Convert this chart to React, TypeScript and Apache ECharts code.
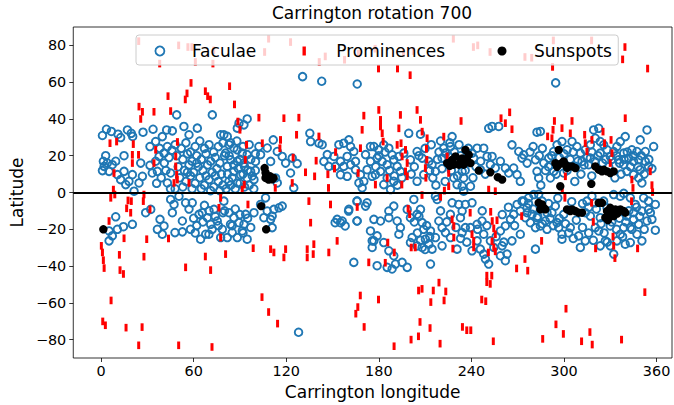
import React, { useEffect, useRef } from "react";
import * as echarts from "echarts";

const xTicks = [0, 60, 120, 180, 240, 300, 360];
const yTicks = [-80, -60, -40, -20, 0, 20, 40, 60, 80];

// Faculae, northern hemisphere, lon 0-48
const facNorthW = [
  [0.9, 31.0], [3.5, 34.4], [6.7, 33.2], [11.0, 31.7], [12.7, 29.9], [17.1, 34.0], [19.6, 32.2], [20.5, 30.5],
  [27.2, 32.8], [33.7, 34.4], [1.5, 17.0], [3.0, 20.0], [2.0, 14.2], [0.9, 11.9], [4.1, 16.0], [7.3, 15.1],
  [9.5, 17.0], [14.9, 20.0], [5.2, 11.5], [10.6, 9.7], [14.9, 11.5], [12.7, 7.0], [16.0, 4.3], [18.1, 6.1],
  [21.4, 0.7], [20.3, 9.7], [24.6, 5.2], [26.8, 8.8], [25.7, 16.0], [31.7, 14.8], [33.2, 10.6], [36.5, 11.5],
  [35.4, 17.0], [31.7, 25.0], [35.4, 27.7], [39.7, 30.4], [42.5, 34.0], [46.2, 33.5], [49.0, 42.2], [53.7, 35.9],
  [57.0, 31.4], [62.4, 35.0], [72.1, 42.2], [77.5, 31.4], [43.0, 5.2], [45.1, 10.6], [37.6, 19.6], [40.8, 21.4],
  [43.0, 25.0], [38, 24], [41, 16], [44, 19], [46, 23], [42, 12], [39, 8], [45, 2], [36, 5],
];
// Faculae, northern hemisphere, dense lon 48-80
const facNorthDense = [
  [48, 26], [52, 24], [55, 27], [58, 22], [61, 25], [64, 28], [67, 24], [70, 26], [73, 22], [76, 25], [79, 27],
  [49, 20], [53, 18], [56, 21], [59, 17], [62, 20], [65, 18], [68, 21], [71, 17], [74, 19], [77, 16], [80, 20],
  [50, 14], [54, 12], [57, 15], [60, 11], [63, 14], [66, 12], [69, 15], [72, 11], [75, 13], [78, 10],
  [51, 8], [55, 6], [58, 9], [61, 5], [64, 8], [67, 4], [70, 7], [73, 3], [76, 6], [79, 4],
  [48, 2], [53, 3], [59, 2], [65, 2], [71, 1], [77, 1], [62, 16], [68, 9], [56, 11], [74, 9],
];
// Faculae, northern hemisphere, lon 80-176
const facNorthMid = [
  [94.7, 40.0], [92.6, 36.8], [89.4, 37.7], [79.6, 31.4], [81.8, 30.5], [82.9, 26.0], [86.1, 24.2], [80.7, 21.4],
  [88.3, 23.2], [91.5, 21.4], [94.7, 20.6], [84.0, 17.8], [88.3, 16.9], [92.6, 16.0], [81.8, 14.2], [86.1, 11.5],
  [90.4, 9.7], [94.7, 7.9], [99.1, 7.0], [82.9, 6.1], [88.3, 5.2], [96.9, 11.5], [100.1, 16.9], [103.4, 20.6],
  [102.3, 25.0], [107.7, 24.2], [111.6, 28.6], [114.2, 22.3], [117.4, 19.6], [119.6, 16.0], [122.8, 10.6],
  [123.9, 18.7], [127.1, 15.7], [124.9, 2.5], [109.9, 16.9], [113.1, 7.9], [114.2, 5.2], [135.3, 32.2],
  [135.8, 27.7], [141.2, 26.8], [143.3, 26.0], [146.6, 20.6], [144.4, 16.9], [147.6, 14.2], [150.9, 19.6],
  [154.1, 26.0], [157.3, 26.8], [160.6, 28.6], [161.7, 25.0], [163.8, 22.3], [159.5, 19.6], [155.2, 16.9],
  [157.3, 14.2], [161.7, 15.1], [164.9, 12.4], [168.1, 9.7], [172.4, 12.4], [174.6, 16.9], [171.4, 20.6],
  [174.6, 25.0], [170.3, 6.1], [169.2, 2.5], [175.7, 8.8], [151.9, 14.2], [155.2, 9.7], [159.5, 8.8],
  [164.9, 16.9], [167.1, 5.2], [88.3, 35.0],
  [81, 2], [84, 4], [87, 2], [90, 5], [93, 3], [96, 4], [99, 2], [82, 10], [85, 8], [89, 13], [92, 10], [95, 12],
  [98, 9], [83, 20], [86, 15], [90, 18], [93, 14], [97, 18], [100, 21], [84, 27], [88, 28], [92, 25], [96, 26], [100, 12],
];
// Faculae, northern hemisphere, lon 176-273
const facNorthEast = [
  [176.8, 25.0], [180.0, 23.2], [183.2, 25.9], [186.5, 24.1], [178.9, 18.7], [182.2, 16.9], [185.4, 15.1],
  [188.6, 20.5], [189.7, 17.8], [191.9, 14.2], [194.0, 11.5], [181.1, 11.5], [177.8, 9.7], [185.4, 7.9],
  [189.7, 6.1], [183.2, 4.3], [187.6, 1.6], [193.0, 19.6], [196.2, 21.4], [200.5, 17.8], [199.4, 32.2],
  [207.0, 31.7], [204.8, 22.3], [208.1, 18.7], [212.4, 16.9], [214.5, 15.1], [216.7, 11.5], [209.1, 9.7],
  [204.8, 6.1], [221.0, 18.7], [223.2, 21.4], [222.1, 24.1], [226.4, 25.0], [227.5, 30.4], [225.3, 19.6],
  [228.6, 7.9], [230.7, 4.3], [234.0, 3.4], [235.0, 7.9], [239.4, 3.4], [236.1, 16.0], [234.0, 11.5],
  [240.4, 21.4], [241.5, 18.7], [243.7, 24.1], [248.0, 24.1], [250.2, 19.6], [253.4, 19.6], [252.3, 15.1],
  [255.5, 13.3], [258.8, 17.0], [262.0, 13.3], [264.2, 10.6], [267.4, 13.3], [269.6, 9.7], [266.3, 25.9],
  [270.7, 22.3], [272.8, 18.7], [251.2, 34.9], [253.4, 35.9], [257.7, 35.9], [271.7, 6.1], [235.0, 0.7],
  [245.8, 12.4],
  [180, 20], [184, 22], [187, 12], [190, 9], [192, 4], [195, 8], [178, 14],
  [201, 10], [203, 14], [206, 20], [210, 24], [213, 12], [215, 8], [218, 18], [219, 22], [221, 13], [223, 6],
  [227, 12], [229, 22], [231, 9], [233, 20], [236, 12], [238, 24], [241, 8], [243, 14], [246, 17], [249, 10],
  [232, 26], [226, 27], [220, 28], [214, 26], [217, 4],
];
// Faculae, northern hemisphere, lon 273-360
const facNorthFar = [
  [282.5, 32.8], [284.7, 33.2], [273.9, 20.5], [276.1, 16.0], [281.5, 17.8], [282.5, 11.5], [283.6, 7.9],
  [286.9, 16.0], [290.1, 18.7], [293.3, 22.3], [295.5, 25.9], [298.7, 27.7], [302.0, 23.2], [305.2, 27.7],
  [308.4, 25.0], [310.6, 21.4], [311.7, 16.9], [307.4, 14.2], [299.8, 10.6], [293.3, 11.5], [291.2, 7.9],
  [313.8, 23.2], [317.1, 25.9], [319.2, 34.0], [322.5, 34.9], [320.3, 29.5], [323.5, 27.7], [325.7, 25.9],
  [327.9, 23.2], [317.1, 18.7], [316.0, 15.1], [323.5, 21.4], [330.0, 19.6], [332.2, 22.3], [334.3, 25.0],
  [336.5, 27.7], [339.7, 30.4], [338.7, 21.4], [335.4, 17.8], [338.7, 15.1], [341.9, 18.7], [344.0, 23.2],
  [347.3, 22.3], [349.4, 28.6], [353.8, 34.0], [358.1, 25.0], [348.4, 17.8], [352.7, 16.9], [354.8, 14.2],
  [349.4, 12.4], [348.4, 7.9], [345.1, 9.7], [340.8, 11.5], [350.5, 5.2], [352.7, 22.3], [345.1, 16.9],
  [278, 22], [280, 25], [284, 20], [286, 24], [288, 12], [290, 14], [292, 20], [295, 10], [297, 19], [300, 21],
  [302, 12], [304, 18], [306, 22], [309, 17], [311, 10], [313, 15], [315, 19], [318, 22], [320, 17], [322, 20],
  [325, 16], [327, 18], [329, 14], [331, 18], [334, 20], [336, 16], [339, 18], [341, 22], [343, 14], [345, 20],
  [348, 14], [350, 20], [352, 10], [355, 18], [357, 13], [333, 8], [337, 10], [318, 9], [307, 6], [285, 4],
];
// Faculae far from the equator
const facOutliers = [
  [130.6, 63.0], [143.0, 60.5], [166.0, 59.0], [294.6, 59.6], [128.0, -76.0], [163.8, -38.0],
];
// Faculae, southern hemisphere, lon 0-176
const facSouthW = [
  [45.1, -3.8], [47.3, -6.5], [46.2, -11.0], [50.5, -2.0], [54.8, -5.6], [59.1, -5.6], [63.5, -11.9],
  [65.6, -11.0], [68.9, -13.7], [71.0, -17.3], [67.8, -22.7], [64.5, -25.4], [69.9, -22.7], [73.2, -9.2],
  [75.3, -15.5], [78.6, -20.0], [77.5, -24.5], [28.9, -11.0], [32.2, -9.2], [38.2, -14.6], [36.5, -20.0],
  [39.7, -22.7], [40.8, -18.2], [47.9, -21.8], [52.7, -15.5], [52.7, -21.4], [9.5, -13.2], [10.6, -20.0],
  [14.5, -18.6], [20.3, -17.3], [5.2, -20.9], [7.3, -23.6], [5.2, -26.3],
  [57, -9], [60, -14], [62, -18], [66, -16], [70, -10], [72, -20], [74, -13], [76, -18], [79, -11], [61, -22],
  [67, -7], [58, -20],
  [79.6, -4.7], [82.9, -11.0], [86.1, -13.7], [83.9, -17.3], [89.4, -16.4], [92.6, -17.3], [91.5, -20.9],
  [88.3, -24.5], [94.7, -25.4], [81.8, -24.5], [85.0, -21.8], [93.7, -11.9], [99.1, -11.0], [106.6, -2.9],
  [103.4, -6.5], [107.7, -10.1], [112.0, -9.2], [115.3, -8.3], [110.9, -12.8], [109.9, -14.6], [105.5, -13.7],
  [110.9, -19.1], [117.4, -7.4], [153.0, -14.6], [156.3, -15.5], [160.6, -9.2], [166.0, -4.7], [172.4, -5.6],
  [171.4, -7.4], [166.0, -15.5], [155.2, -16.4], [174.6, -20.9], [175.7, -29.9], [175.7, -26.3],
  [87, -9], [90, -12], [95, -14], [97, -19], [85, -18], [92, -22], [80, -10],
  [151.7, -16.4], [158.2, -18.2], [160.4, -10.1], [165.8, -15.5], [165.8, -4.7],
];
// Faculae, southern hemisphere, lon 176-273
const facSouthE = [
  [189.7, -7.4], [186.5, -10.1], [176.8, -14.6], [181.1, -15.5], [186.5, -13.7], [191.9, -15.5], [198.4, -9.2],
  [202.7, -3.8], [200.5, -13.7], [204.8, -11.9], [207.0, -9.2], [208.1, -16.4], [209.1, -20.0], [201.6, -24.5],
  [200.5, -27.2], [204.8, -29.0], [208.1, -29.9], [210.2, -25.4], [212.4, -28.1], [214.5, -30.8], [216.7, -24.5],
  [213.5, -38.9], [176.8, -26.3], [178.9, -23.6], [183.2, -27.2], [186.5, -31.7], [189.7, -34.4], [190.8, -38.9],
  [188.6, -41.6], [185.4, -40.7], [178.9, -39.8], [216.7, -2.0], [217.8, -3.8], [227.5, -5.6], [231.8, -6.5],
  [236.1, -6.5], [240.4, -5.6], [234.0, -10.1], [236.1, -19.1], [234.0, -21.8], [239.4, -19.1], [243.7, -17.3],
  [246.9, -15.5], [248.0, -22.7], [243.7, -26.3], [240.4, -31.7], [245.8, -30.8], [249.1, -36.2], [251.2, -38.9],
  [248.0, -33.5], [263.1, -33.5], [262.0, -37.1], [259.9, -29.0], [258.8, -20.9], [262.0, -18.2], [265.3, -14.6],
  [267.4, -11.9], [269.6, -6.5], [272.8, -4.7], [271.7, -10.1], [266.3, -26.3], [271.7, -22.7], [223.2, -21.8],
  [221.0, -19.1], [230.7, -30.8], [226.4, -24.5], [252.3, -26.3], [254.5, -29.9], [258.8, -34.4], [195.1, -38.0],
  [198.4, -40.7], [213.5, -20.9], [218.9, -15.5], [226.4, -11.9], [221.0, -29.0], [232.9, -13.7], [194.0, -19.1],
  [193.0, -22.7],
  [203, -16], [205, -22], [207, -26], [211, -18], [213, -24], [206, -13], [210, -31],
  [220, -10], [224, -16], [230, -19], [233, -25], [237, -27], [244, -20], [250, -18], [256, -24], [260, -12],
  [264, -8], [268, -18], [261, -27], [247, -10],
];
// Faculae, southern hemisphere, lon 273-360
const facSouthFar = [
  [273.9, -4.7], [277.1, -2.9], [280.4, -1.1], [283.6, -1.0], [276.1, -8.3], [279.3, -11.9], [282.5, -13.7],
  [275.0, -13.7], [278.2, -16.4], [281.5, -19.1], [284.7, -18.2], [289.0, -20.0], [287.9, -15.5], [292.2, -11.0],
  [294.4, -7.4], [295.5, -16.4], [299.8, -11.9], [298.7, -22.7], [298.7, -25.4], [296.6, -19.1], [304.1, -19.1],
  [309.5, -23.6], [310.6, -29.9], [313.8, -26.3], [314.9, -4.7], [313.8, -11.0], [318.1, -2.0], [320.3, -5.6],
  [317.1, -12.8], [320.3, -19.1], [322.5, -20.9], [326.8, -26.3], [330.0, -29.0], [332.2, -33.5], [323.5, -29.0],
  [332.2, -1.1], [336.5, -2.0], [338.7, -0.5], [343.0, -2.9], [346.2, -6.5], [350.5, -10.1], [354.8, -9.2],
  [357.0, -14.6], [353.8, -15.5], [348.4, -17.3], [345.1, -14.6], [343.0, -19.1], [347.3, -22.7], [350.5, -26.3],
  [343.0, -27.2], [339.7, -28.1], [336.5, -22.7], [334.3, -26.3], [359.2, -20.5], [276.1, -11.0], [281.5, -30.8],
  [285.8, -4.7], [325.7, -4.7], [327.9, -8.3], [323.5, -13.7], [330.0, -18.2], [338.7, -19.1], [340.8, -12.8],
  [345.1, -11.0], [351.6, -2.9], [359.2, -6.5], [354.8, -4.7],
  [277, -6], [280, -9], [283, -13], [286, -17], [289, -11], [291, -14], [293, -18], [297, -14], [301, -17],
  [303, -22], [306, -25], [308, -15], [312, -19], [316, -22], [319, -26], [321, -9], [324, -17], [326, -22],
  [328, -27], [331, -16], [334, -20], [336, -14], [338, -24], [340, -16], [342, -10], [344, -20], [347, -8],
  [349, -13], [352, -20], [356, -11], [290, -6], [296, -3], [305, -5], [312, -6], [316, -8],
];

// Prominences, high northern latitudes
const promHighNorth = [
  [24.4, 82.3], [38.0, 70.1], [50.3, 80.0], [56.3, 79.1], [58.9, 79.1], [61.1, 71.0], [72.5, 70.1], [73.0, 77.3],
  [108.6, 83.6], [106.0, 76.4], [122.8, 81.8], [141.4, 71.0], [145.3, 74.0], [157.8, 72.2], [58.3, 59.6],
  [55.7, 53.9], [43.4, 52.4], [67.6, 55.1], [69.1, 52.4], [83.3, 57.8], [54.6, 50.6], [70.8, 50.6],
  [179.8, 67.4], [192.1, 67.4], [200.3, 63.8], [292.6, 68.3], [339.5, 79.1], [338.0, 72.4], [354.2, 67.4],
  [241.3, 79.1], [244.1, 80.0], [252.1, 76.4], [274.7, 73.7], [279.1, 73.3], [293.1, 82.7], [317.9, 82.7],
  [228.3, 83.6], [166.8, 75.5], [196.0, 75.9], [202.4, 76.9], [177.6, 78.2],
];
// Prominences, northern hemisphere below 50 degrees
const promNorth = [
  [24.6, 46.7], [26.8, 43.9], [25.7, 40.0], [34.3, 43.9], [45.1, 44.3], [86.5, 47.9], [88.7, 38.6], [90.0, 34.1],
  [5.8, 26.8], [10.1, 27.7], [20.9, 26.3], [20.3, 20.5], [24.3, 20.5], [35.4, 23.2], [20.3, 16.0], [34.3, 16.0],
  [49.5, 27.5], [48.4, 19.6], [48.4, 14.2], [49.0, 9.7], [49.4, 7.0], [47.3, 5.2], [57.0, 5.2], [8.4, 10.6],
  [8.0, 1.6], [94.3, 26.0], [93.5, 17.8], [92.8, 4.3], [91.5, 1.6],
  [102.3, 40.7], [118.5, 40.4], [128.2, 40.7], [104.5, 26.8], [116.3, 28.6], [115.9, 24.1], [126.7, 31.4],
  [124.5, 19.0], [132.5, 11.0], [138.4, 8.8], [139.4, 17.3], [141.2, 30.5], [147.0, 9.9], [151.3, 13.0],
  [152.0, 22.0], [166.6, 10.6], [123.9, 5.2], [112.9, 2.5], [147.4, 2.5], [170.3, 41.8], [169.2, 34.1],
  [168.1, 24.1],
  [180.0, 44.9], [181.1, 39.5], [181.1, 35.9], [182.2, 32.2], [182.8, 27.7], [194.0, 42.2], [193.0, 34.9],
  [191.9, 25.9], [194.4, 26.8], [197.3, 23.2], [195.1, 19.6], [198.4, 16.0], [197.3, 11.5], [198.4, 8.8],
  [194.9, 4.3], [204.8, 44.9], [207.0, 39.5], [208.1, 33.1], [211.3, 29.5], [210.9, 23.8], [211.1, 17.8],
  [210.2, 13.3], [210.5, 8.0], [222.1, 30.4], [224.3, 19.6], [225.3, 10.6], [225.3, 3.4], [222.5, 1.0],
  [233.3, 38.9], [259.2, 40.4], [262.0, 37.7], [264.8, 43.6], [266.3, 34.4], [251.2, 1.6], [255.5, 0.7],
  [185.4, 7.9], [177.8, 4.3], [289.4, 30.5], [292.2, 29.5], [292.9, 34.1], [293.8, 38.9], [298.7, 35.0],
  [304.1, 32.2], [305.2, 38.9], [313.4, 31.4], [313.8, 26.8], [318.1, 28.6], [314.9, 22.3], [325.3, 33.1],
  [326.3, 26.8], [330.5, 28.6], [331.1, 21.4], [330.0, 16.0], [339.7, 40.4], [300.9, 8.8], [298.9, 1.6],
  [344.0, 7.0], [344.7, 2.5], [355.9, 11.5], [357.0, 4.0], [357.4, 0.2],
];
// Prominences, southern hemisphere above -55 degrees
const promSouth = [
  [6.3, -2.9], [8.9, -1.1], [17.5, -4.3], [19.6, -4.7], [16.6, -8.6], [19.2, -11.0], [27.8, -1.1], [27.4, -4.7],
  [31.7, -9.2], [5.2, -15.5], [14.9, -24.9], [29.6, -25.4], [43.7, -25.0], [0.2, -29.0], [0.9, -32.6],
  [1.5, -36.8], [2.0, -41.1], [11.9, -33.9], [12.3, -42.2], [14.5, -44.3], [27.8, -34.9], [54.8, -40.7],
  [67.6, -34.8], [71.0, -42.2], [77.5, -2.9], [76.4, -8.3], [77.5, -24.5],
  [95.2, -6.5], [80.7, -33.5], [98.6, -30.3], [109.9, -30.8], [112.0, -32.6], [118.5, -35.3], [119.6, -30.8],
  [133.6, -30.8], [133.6, -35.3], [137.9, -28.1], [137.5, -33.5], [134.7, -4.7], [135.8, -16.4], [148.7, -6.5],
  [153.0, -26.3], [147.6, -32.6], [166.0, -7.9], [173.5, -38.0],
  [199.0, -8.8], [200.0, -11.8], [208.0, -1.4], [220.0, -2.4], [239.2, -11.0], [227.5, -14.6], [228.6, -18.2],
  [228.6, -24.5], [228.0, -30.5], [240.4, -22.7], [241.5, -26.3], [241.5, -29.9], [252.5, -10.5], [253.5, -15.5],
  [256.6, -15.1], [254.5, -19.5], [255.5, -22.7], [253.4, -26.5], [254.5, -29.9], [255.5, -32.0], [251.0, -32.6],
  [272.6, -12.8], [285.5, -26.3], [274.7, -36.2], [276.5, -42.5], [269.3, -41.3], [300.6, -2.9], [317.9, -5.6],
  [319.0, -16.0], [320.5, -30.4], [331.8, -24.0], [332.2, -29.0], [333.0, -35.7], [343.8, -4.7], [347.7, -30.4],
  [190.0, -32.6], [185.8, -27.2], [184.2, -38.2], [201.0, -29.9], [203.6, -29.9], [250.0, -45.2], [253.2, -45.2],
  [250.0, -48.8], [252.2, -49.7], [205.8, -53.3], [208.0, -52.4], [215.3, -53.3], [219.0, -49.0], [223.4, -53.8],
];
// Prominences, high southern latitudes
const promHighSouth = [
  [6.5, -58.7], [1.1, -70.1], [2.8, -72.2], [16.2, -73.5], [26.6, -73.2], [24.4, -83.1], [50.3, -83.1],
  [71.9, -84.0], [104.3, -56.9], [108.6, -65.0], [114.4, -71.3], [168.0, -56.0], [166.4, -62.3], [165.1, -65.9],
  [179.8, -58.2], [170.5, -73.1], [213.7, -59.6], [222.3, -58.7], [246.7, -58.2], [249.3, -59.1], [206.7, -70.4],
  [213.2, -73.7], [205.7, -78.2], [200.9, -80.0], [234.2, -73.1], [237.0, -74.9], [239.6, -74.9], [219.7, -82.2],
  [189.9, -83.6], [254.2, -80.9], [286.2, -79.6], [294.8, -71.7], [299.6, -76.9], [301.3, -63.2], [316.8, -75.9],
  [311.4, -80.9], [318.3, -82.7], [337.3, -80.0], [352.4, -54.2],
];

// Sunspots
const spotsNorth = [
  [106.0, 13.3], [106.6, 10.8], [107.1, 8.8], [108.6, 7.0], [109.6, 8.8], [110.9, 7.2], [111.8, 7.9], [106.6, 7.9],
  [224.3, 16.0], [227.5, 17.8], [229.7, 19.6], [232.9, 16.9], [235.0, 15.1], [237.2, 17.8], [239.4, 16.0],
  [236.1, 23.2], [238.3, 20.5], [231.8, 15.1], [228.6, 15.1], [226.0, 14.5], [234.0, 18.5], [244.8, 11.9],
  [252.3, 11.0], [257.1, 8.3], [259.9, 7.0],
  [296.6, 23.2], [294.4, 16.0], [296.6, 15.1], [298.7, 16.0], [300.9, 15.1], [303.0, 14.2], [305.2, 14.2],
  [307.4, 13.3], [299.8, 16.9], [295.5, 14.0], [302.0, 13.4], [320.3, 14.2], [322.5, 12.4], [324.6, 11.5],
  [327.9, 11.5], [330.0, 10.6], [332.2, 11.5], [325.7, 12.4], [297.6, 3.4], [317.7, 4.7],
];
const spotsSouth = [
  [1.5, -20.0], [103.8, -7.4], [107.0, -20.0],
  [283.6, -5.6], [285.8, -6.5], [286.9, -8.3], [284.7, -9.2], [287.9, -9.2], [302.0, -9.2], [305.2, -9.2],
  [307.4, -10.1], [309.5, -11.0], [311.7, -11.0], [304.1, -10.1], [322.5, -5.6], [324.6, -5.6], [327.9, -10.1],
  [329.0, -12.8], [331.1, -11.0], [333.3, -9.2], [336.5, -9.2], [338.7, -10.1], [339.7, -11.0], [330.0, -8.3],
  [332.2, -12.8], [326.8, -13.7], [328.5, -15.0], [334.5, -11.5],
];

const faculae = [
  ...facNorthW, ...facNorthDense, ...facNorthMid, ...facNorthEast, ...facNorthFar,
  ...facOutliers, ...facSouthW, ...facSouthE, ...facSouthFar,
];
const prominences = [...promHighNorth, ...promNorth, ...promSouth, ...promHighSouth];
const sunspots = [...spotsNorth, ...spotsSouth];

const FONT = "DejaVu Sans";
const fmtY = (v: number) => (v < 0 ? "\u2212" + Math.abs(v) : String(v));

const legendCommon = {
  orient: "horizontal",
  selectedMode: false,
  itemWidth: 54,
  itemHeight: 9,
  textStyle: { fontFamily: FONT, fontSize: 17, color: "#000" },
};

export default function App() {
  const ref = useRef<HTMLDivElement>(null);
  useEffect(() => {
    const chart = echarts.init(ref.current!, null, { renderer: "svg" });
    chart.setOption({
      animation: false,
      backgroundColor: "#ffffff",
      textStyle: { fontFamily: FONT },
      title: {
        text: "Carrington rotation 700",
        left: 272,
        top: 4,
        padding: 0,
        textStyle: { fontFamily: FONT, fontSize: 17, fontWeight: "normal", color: "#000" },
      },
      grid: {
        left: 71,
        right: 2,
        top: 27,
        bottom: 46,
        show: true,
        borderColor: "#000",
        borderWidth: 0.8,
        backgroundColor: "transparent",
      },
      legend: [
        {
          ...legendCommon,
          left: 136,
          top: 35,
          z: 4,
          padding: [7.5, 362, 5.5, 18.5],
          backgroundColor: "rgba(255,255,255,0.8)",
          borderColor: "#cccccc",
          borderWidth: 1,
          borderRadius: 3,
          data: [
            {
              name: "Faculae",
              icon: "circle",
              itemStyle: { color: "rgba(0,0,0,0)", borderColor: "#1f77b4", borderWidth: 1.8 },
            },
          ],
        },
        {
          ...legendCommon,
          left: 302.5,
          top: 42.5,
          z: 5,
          padding: 0,
          backgroundColor: "transparent",
          data: [
            {
              name: "Prominences",
              icon: "path://M0,0L3,0L3,8L0,8Z",
              itemStyle: { color: "#ff0000", borderWidth: 0 },
            },
          ],
        },
        {
          ...legendCommon,
          left: 497.5,
          top: 42.5,
          z: 5,
          padding: 0,
          backgroundColor: "transparent",
          data: [{ name: "Sunspots", icon: "circle", itemStyle: { color: "#000000", borderWidth: 0 } }],
        },
      ],
      xAxis: {
        type: "value",
        min: -18,
        max: 370,
        name: "Carrington longitude",
        nameLocation: "middle",
        nameGap: 25,
        nameTextStyle: { fontFamily: FONT, fontSize: 17, color: "#000" },
        axisLine: { show: false, onZero: false },
        splitLine: { show: false },
        axisTick: {
          show: true,
          inside: false,
          length: 4,
          lineStyle: { color: "#000", width: 0.8 },
          customValues: xTicks,
        },
        axisLabel: {
          fontFamily: FONT,
          fontSize: 14.4,
          color: "#000",
          margin: 6,
          customValues: xTicks,
        },
      },
      yAxis: {
        type: "value",
        min: -90,
        max: 90,
        name: "Latitude",
        nameLocation: "middle",
        nameGap: 44,
        nameTextStyle: { fontFamily: FONT, fontSize: 17, color: "#000" },
        axisLine: { show: false, onZero: false },
        splitLine: { show: false },
        axisTick: {
          show: true,
          inside: false,
          length: 4,
          lineStyle: { color: "#000", width: 0.8 },
          customValues: yTicks,
        },
        axisLabel: {
          fontFamily: FONT,
          fontSize: 14.4,
          color: "#000",
          margin: 7,
          formatter: fmtY,
          customValues: yTicks,
        },
      },
      series: [
        {
          name: "Faculae",
          type: "scatter",
          data: faculae,
          symbol: "circle",
          symbolSize: 7.6,
          itemStyle: { color: "rgba(0,0,0,0)", borderColor: "#1f77b4", borderWidth: 1.9, opacity: 1 },
          emphasis: { disabled: true },
        },
        {
          name: "Prominences",
          type: "scatter",
          data: prominences,
          symbol: "rect",
          symbolSize: [3, 7.6],
          itemStyle: { color: "#ff0000", opacity: 1 },
          emphasis: { disabled: true },
        },
        {
          name: "Sunspots",
          type: "scatter",
          data: sunspots,
          symbol: "circle",
          symbolSize: 8.4,
          itemStyle: { color: "#000000", opacity: 1 },
          emphasis: { disabled: true },
          markLine: {
            silent: true,
            symbol: "none",
            label: { show: false },
            lineStyle: { color: "#000", width: 1.8, type: "solid", opacity: 1 },
            emphasis: { disabled: true },
            data: [{ yAxis: 0 }],
          },
        },
      ],
    });
    return () => chart.dispose();
  }, []);
  return (
    <div
      ref={ref}
      style={{ position: "fixed", left: 0, top: 0, width: 674, height: 405 }}
    />
  );
}
